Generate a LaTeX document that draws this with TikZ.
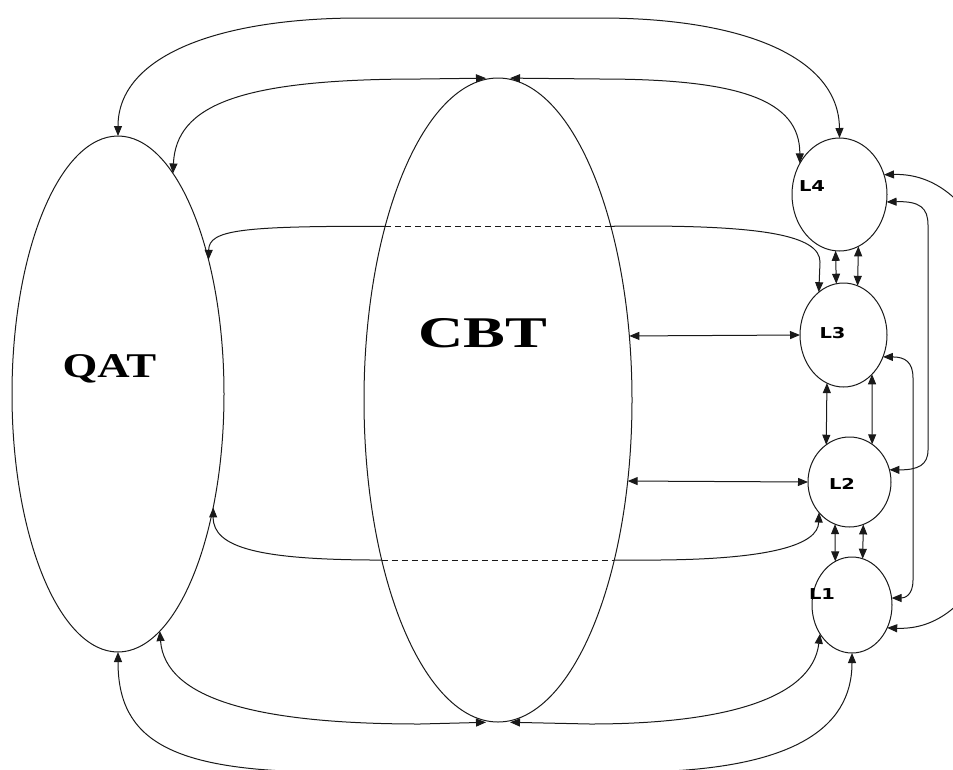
\documentclass[tikz,border=0pt]{standalone}
\usepackage{graphicx}
\usepackage{fontspec}
\setmainfont{Liberation Serif}
\newfontfamily\lfont{DejaVu Sans}
\usetikzlibrary{shapes.geometric,arrows.meta}
\begin{document}
\begin{tikzpicture}[x=1pt,y=-1pt,
  ell/.style={draw=black!90, line width=1pt, ellipse, inner sep=0pt, outer sep=0pt},
  conn/.style={draw=black!90, line width=1pt},
  dashpart/.style={conn, dash pattern=on 6pt off 4pt},
  biglabel/.style={inner sep=0pt, anchor=base, font=\bfseries},
  llabel/.style={inner sep=0pt, anchor=base, font=\lfont\bfseries\fontsize{15}{18}\selectfont},
  >={Triangle[length=10pt,width=8pt]}]
\useasboundingbox (0,0) rectangle (953,769);
\clip (0,0) rectangle (953,769);
% ellipses
\node[ell, minimum width=212pt, minimum height=516pt] (qat) at (118,394) {};
\node[ell, minimum width=268pt, minimum height=644pt] (cbt) at (498,400) {};
\node[ell, minimum width=95pt, minimum height=113pt] (l4) at (839.5,194.5) {};
\node[ell, minimum width=87pt, minimum height=104pt] (l3) at (843.5,335) {};
\node[ell, minimum width=83pt, minimum height=90pt] (l2) at (849.5,482) {};
\node[ell, minimum width=80pt, minimum height=96pt] (l1) at (852,605) {};
% labels
\node[biglabel] (qatlabel) at (109.5,377) {\fontsize{34.7}{40}\selectfont\scalebox{1.29}[1]{QAT}};
\node[biglabel] (cbtlabel) at (482.5,347) {\fontsize{43.8}{50}\selectfont\scalebox{1.43}[1]{CBT}};
\node[llabel] (l4label) at (812,191) {\scalebox{1.3}[1]{L4}};
\node[llabel] (l3label) at (832.5,338) {\scalebox{1.3}[1]{L3}};
\node[llabel] (l2label) at (842,489) {\scalebox{1.3}[1]{L2}};
\node[llabel] (l1label) at (822,599) {\scalebox{1.3}[1]{L1}};
% top outer arc
\draw[conn,<->] (qat.north) .. controls (118,55) and (220,18) .. (360,18) -- (600,18) .. controls (745,18) and (839,58) .. (l4.north);
% top inner arcs
\draw[conn,<->,shorten >=12pt] (qat.76) .. controls (176,105) and (240,79) .. (420,79) -- (cbt.north);
\draw[conn,<->,shorten <=12pt] (cbt.north) -- (600,79) .. controls (740,79) and (800,100) .. (l4.142);
% top dashed connector
\draw[conn,<-] (qat.56) .. controls (209,230) and (240,226) .. (cbt.123);
\draw[dashpart] (cbt.123) -- (cbt.57);
\draw[conn,->] (cbt.57) -- (640,226) .. controls (760,226) and (820,235) .. (820,262) -- (l3.120);
% bottom dashed connector
\draw[conn,<-] (qat.310) .. controls (213,548) and (260,560) .. (cbt.234);
\draw[dashpart] (cbt.234) -- (cbt.306);
\draw[conn,->] (cbt.306) -- (660,560) .. controls (770,559) and (818,545) .. (l2.225);
% CBT to L3 and L2
\draw[conn,<->] (cbt.26) -- (l3.west);
\draw[conn,<->] (cbt.328) -- (l2.west);
% vertical links between L nodes
\draw[conn,<->] (l4.266) -- (l3.98);
\draw[conn,<->] (l4.290) -- (l3.74);
\draw[conn,<->] (l3.251) -- (l2.122);
\draw[conn,<->] (l3.306) -- (l2.59);
\draw[conn,<->] (l2.251) -- (l1.111);
\draw[conn,<->] (l2.288) -- (l1.77);
% bottom inner arcs
\draw[conn,<->,shorten >=12pt] (qat.280) .. controls (165,700) and (260,724) .. (420,724) -- (cbt.south);
\draw[conn,<->,shorten <=12pt] (cbt.south) -- (590,724) .. controls (720,724) and (812,700) .. (l1.222);
% bottom outer arc
\draw[conn,<->] (qat.south) .. controls (118,740) and (170,772) .. (330,772) -- (640,772) .. controls (790,770) and (852,730) .. (l1.south);
% right side links
\draw[conn,<->] (l4.24) .. controls (1060,170) and (1060,635) .. (l1.327);
\draw[conn,<->] (l4.351) .. controls (920,201) and (928,208) .. (928,225) -- (928,450) .. controls (928,465) and (918,470) .. (l2.17);
\draw[conn,<->] (l3.331) .. controls (905,357) and (913,362) .. (913,378) -- (913,580) .. controls (913,595) and (905,598) .. (l1.10);
\end{tikzpicture}
\end{document}
